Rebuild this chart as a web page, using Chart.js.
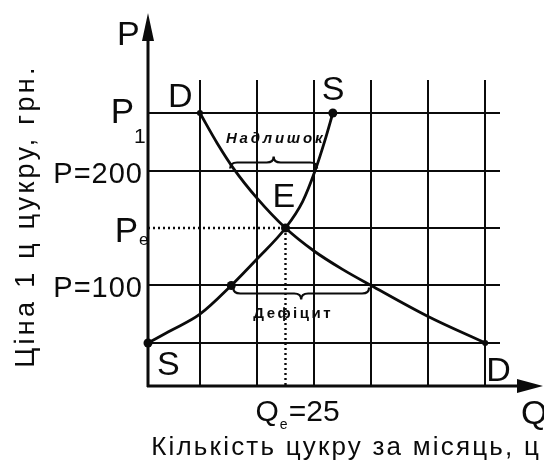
<!DOCTYPE html>
<html lang="uk">
<head>
<meta charset="utf-8">
<title>Ринок цукру</title>
<script src="https://cdn.jsdelivr.net/npm/chart.js@4.4.1/dist/chart.umd.min.js"></script>
<style>
  html, body { margin: 0; padding: 0; background: #fff; }
  #wrap { width: 544px; height: 466px; }
</style>
</head>
<body>
<div id="wrap"><canvas id="market" width="544" height="466"></canvas></div>
<script>
// попит і пропозиція (Q — ц на місяць, P — грн за 1 ц)
const demandQ = [10, 13, 16, 20, 25, 30, 35, 40, 50, 60];
const demandP = [250, 224, 201, 176, 150, 130, 114, 100, 73, 50];
const supplyQ = [0.9, 5, 10, 15.5, 20, 25, 28, 30.2, 31.9, 33.3];
const supplyP = [50, 61, 75, 100, 123, 150, 173, 200, 226, 250];

// рівновага
const eqQ = 25;
const eqP = 150;

// сітка
const quantityGrid = [10, 20, 30, 40, 50, 60];
const priceGrid = [50, 100, 200, 250];

// підписи цін на осі
const priceLabelValues = [250, 200, 150, 100];
const priceLabelText = ['P', 'P=200', 'P', 'P=100'];
const priceLabelSub = ['1', '', 'e', ''];

// надлишок при P=200, дефіцит при P=100
const surplusPrice = 200;
const surplusRange = [16, 30.2];
const shortagePrice = 100;
const shortageRange = [15.5, 40];

const Q_MIN = 0.9, Q_MAX = 62.6;
const P_MIN = 12.6, P_MAX = 278.7;

const FONT = '"Liberation Sans", Arial, sans-serif';
const INK = '#0b0b0b';

const pts = (xs, ys) => xs.map((x, i) => ({ x: x, y: ys[i] }));
const lastIdx = arr => arr.length - 1;

function txt(ctx, s, x, y, size, opt) {
  opt = opt || {};
  ctx.save();
  ctx.font = (opt.style || '') + ' ' + (opt.weight || 'normal') + ' ' + size + 'px ' + FONT;
  ctx.fillStyle = INK;
  ctx.textAlign = opt.align || 'left';
  ctx.textBaseline = 'alphabetic';
  if ('letterSpacing' in ctx) ctx.letterSpacing = (opt.spacing || 0) + 'px';
  ctx.fillText(s, x, y);
  const w = ctx.measureText(s).width;
  ctx.restore();
  return w;
}

function brace(ctx, x1, x2, y, dir) {
  // dir = -1: дужка над лінією, +1: під лінією
  const xm = (x1 + x2) / 2;
  const h = 8 * dir, tip = 14 * dir;
  ctx.beginPath();
  ctx.moveTo(x1, y + 2 * dir);
  ctx.quadraticCurveTo(x1, y + h, x1 + 7, y + h);
  ctx.lineTo(xm - 7, y + h);
  ctx.quadraticCurveTo(xm, y + h, xm, y + tip);
  ctx.quadraticCurveTo(xm, y + h, xm + 7, y + h);
  ctx.lineTo(x2 - 7, y + h);
  ctx.quadraticCurveTo(x2, y + h, x2, y + 2 * dir);
  ctx.stroke();
}

const decorations = {
  id: 'decorations',
  afterDraw(chart) {
    const ctx = chart.ctx;
    const xs = chart.scales.x, ys = chart.scales.y;
    const x0 = xs.getPixelForValue(Q_MIN);
    const y0 = ys.getPixelForValue(P_MIN);

    ctx.save();
    ctx.strokeStyle = INK;
    ctx.fillStyle = INK;
    ctx.lineCap = 'butt';

    // осі зі стрілками
    ctx.lineWidth = 3;
    ctx.beginPath();
    ctx.moveTo(x0, y0 + 1);
    ctx.lineTo(x0, 36);
    ctx.moveTo(x0 - 1, y0);
    ctx.lineTo(522, y0);
    ctx.stroke();
    ctx.beginPath();
    ctx.moveTo(x0, 13);
    ctx.lineTo(x0 - 6, 41);
    ctx.lineTo(x0 + 6, 41);
    ctx.closePath();
    ctx.fill();
    ctx.beginPath();
    ctx.moveTo(543, y0);
    ctx.lineTo(517, y0 - 7);
    ctx.lineTo(517, y0 + 7);
    ctx.closePath();
    ctx.fill();

    // фігурні дужки
    ctx.lineWidth = 2.2;
    brace(ctx, xs.getPixelForValue(surplusRange[0]) - 4, xs.getPixelForValue(surplusRange[1]) + 2,
      ys.getPixelForValue(surplusPrice), -1);
    brace(ctx, xs.getPixelForValue(shortageRange[0]) + 2, xs.getPixelForValue(shortageRange[1]) - 2,
      ys.getPixelForValue(shortagePrice), 1);
    ctx.restore();

    // підписи цін
    priceLabelValues.forEach((v, i) => {
      const y = ys.getPixelForValue(v);
      const sub = priceLabelSub[i];
      if (sub === '1') {
        txt(ctx, priceLabelText[i], x0 - 14, y + 10, 35, { align: 'right' });
        txt(ctx, sub, x0 - 14, y + 30, 21);
      } else if (sub) {
        txt(ctx, priceLabelText[i], x0 - 10, y + 14, 35, { align: 'right' });
        txt(ctx, sub, x0 - 9, y + 17, 17);
      } else {
        txt(ctx, priceLabelText[i], x0 - 5, y + 12, 29, { align: 'right', spacing: 1 });
      }
    });

    // Qe = 25
    const qx = xs.getPixelForValue(eqQ);
    const qLabelY = y0 + 35;
    const w = txt(ctx, 'Q', qx - 30, qLabelY, 30);
    txt(ctx, 'e', qx - 30 + w + 1, qLabelY + 8, 14);
    txt(ctx, '=25', qx - 30 + w + 10, qLabelY, 30);

    // позначки кривих
    const dTop = { x: xs.getPixelForValue(demandQ[0]), y: ys.getPixelForValue(demandP[0]) };
    const dEnd = { x: xs.getPixelForValue(demandQ[lastIdx(demandQ)]), y: ys.getPixelForValue(demandP[lastIdx(demandP)]) };
    const sTop = { x: xs.getPixelForValue(supplyQ[lastIdx(supplyQ)]), y: ys.getPixelForValue(supplyP[lastIdx(supplyP)]) };
    const sEnd = { x: xs.getPixelForValue(supplyQ[0]), y: ys.getPixelForValue(supplyP[0]) };
    const e = { x: xs.getPixelForValue(eqQ), y: ys.getPixelForValue(eqP) };
    txt(ctx, 'D', dTop.x - 32, dTop.y - 6, 34);
    txt(ctx, 'S', sTop.x - 11, sTop.y - 13, 34);
    txt(ctx, 'E', e.x - 13, e.y - 21, 34);
    txt(ctx, 'S', sEnd.x + 9, sEnd.y + 32, 34);
    txt(ctx, 'D', dEnd.x + 1, dEnd.y + 38, 34);
    txt(ctx, 'P', x0 - 31, 45, 34);
    txt(ctx, 'Q', 521, y0 + 38, 34);

    // надлишок / дефіцит
    const sm = (xs.getPixelForValue(surplusRange[0]) + xs.getPixelForValue(surplusRange[1])) / 2;
    txt(ctx, 'Надлишок', sm + 1, ys.getPixelForValue(surplusPrice) - 28, 15,
      { align: 'center', weight: 'bold', style: 'italic', spacing: 2.8 });
    const hm = (xs.getPixelForValue(shortageRange[0]) + xs.getPixelForValue(shortageRange[1])) / 2;
    txt(ctx, 'Дефіцит', hm - 8, ys.getPixelForValue(shortagePrice) + 33, 15,
      { align: 'center', weight: 'bold', spacing: 2.5 });

    // назви осей
    txt(ctx, 'Кількість цукру за місяць, ц', 541, 455, 26, { align: 'right', spacing: 2.2 });
    ctx.save();
    ctx.translate(34, 216);
    ctx.rotate(-Math.PI / 2);
    txt(ctx, 'Ціна 1 ц цукру, грн.', 0, 0, 27, { align: 'center', spacing: 3.3 });
    ctx.restore();
  }
};

const curveStyle = {
  borderColor: INK,
  backgroundColor: INK,
  pointBackgroundColor: INK,
  pointBorderWidth: 0,
  borderWidth: 2.8,
  cubicInterpolationMode: 'monotone',
  fill: false,
  clip: false
};

new Chart(document.getElementById('market'), {
  type: 'line',
  data: {
    datasets: [
      Object.assign({ label: 'D', data: pts(demandQ, demandP),
        pointRadius: demandQ.map((q, i) => (i === 0 || i === lastIdx(demandQ)) ? 3 : 0) }, curveStyle),
      Object.assign({ label: 'S', data: pts(supplyQ, supplyP),
        pointRadius: supplyQ.map((q, i) => (i === 0 || supplyP[i] === 100 || i === lastIdx(supplyQ)) ? 4.5 : 0) }, curveStyle),
      { label: 'Pe', data: [{ x: Q_MIN, y: eqP }, { x: eqQ, y: eqP }], borderColor: INK, borderWidth: 2.4,
        borderDash: [2, 3], pointRadius: 0 },
      { label: 'Pe+', data: [{ x: eqQ, y: eqP }, { x: Q_MAX, y: eqP }], borderColor: INK, borderWidth: 2,
        pointRadius: 0 },
      { label: 'Qe', data: [{ x: eqQ, y: eqP }, { x: eqQ, y: P_MIN }], borderColor: INK, borderWidth: 2.4,
        borderDash: [2, 3], pointRadius: 0 },
      { label: 'E', data: [{ x: eqQ, y: eqP }], showLine: false, pointRadius: 4.5,
        pointBackgroundColor: INK, pointBorderWidth: 0 }
    ]
  },
  options: {
    responsive: false,
    animation: false,
    devicePixelRatio: 1,
    events: [],
    layout: { padding: { left: 148, right: 44, top: 80, bottom: 80 } },
    plugins: { legend: { display: false }, tooltip: { enabled: false } },
    scales: {
      x: {
        type: 'linear', min: Q_MIN, max: Q_MAX,
        afterBuildTicks: s => { s.ticks = quantityGrid.map(v => ({ value: v })); },
        ticks: { display: false },
        grid: { color: INK, lineWidth: 2, drawTicks: false },
        border: { display: false }
      },
      y: {
        type: 'linear', min: P_MIN, max: P_MAX,
        afterBuildTicks: s => { s.ticks = priceGrid.map(v => ({ value: v })); },
        ticks: { display: false },
        grid: { color: INK, lineWidth: 2, drawTicks: false },
        border: { display: false }
      }
    }
  },
  plugins: [decorations]
});
</script>
</body>
</html>
